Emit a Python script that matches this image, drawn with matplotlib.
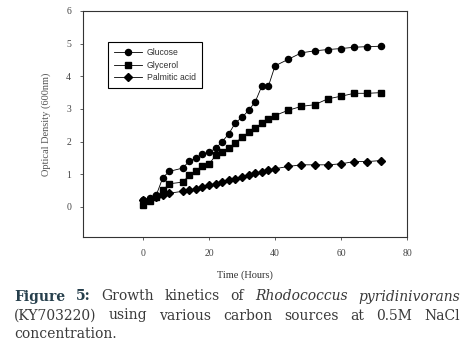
import numpy as np
import matplotlib
matplotlib.use('Agg')
import matplotlib.pyplot as plt

# growth data (time in hours, OD600)
t_glucose = [0, 2, 4, 6, 8, 12, 14, 16, 18, 20, 22, 24, 26, 28, 30, 32, 34,
             36, 38, 40, 44, 48, 52, 56, 60, 64, 68, 72]
od_glucose = [0.20, 0.26, 0.36, 0.90, 1.09, 1.19, 1.40, 1.50, 1.62, 1.68,
              1.79, 2.00, 2.24, 2.58, 2.74, 2.96, 3.22, 3.70, 3.70, 4.32,
              4.52, 4.72, 4.78, 4.82, 4.85, 4.89, 4.91, 4.92]

t_glycerol = [0, 2, 4, 6, 8, 12, 14, 16, 18, 20, 22, 24, 26, 28, 30, 32, 34,
              36, 38, 40, 44, 48, 52, 56, 60, 64, 68, 72]
od_glycerol = [0.07, 0.18, 0.30, 0.51, 0.71, 0.76, 0.97, 1.09, 1.24, 1.31,
               1.58, 1.69, 1.82, 1.95, 2.15, 2.28, 2.42, 2.56, 2.68, 2.80,
               2.96, 3.08, 3.13, 3.31, 3.39, 3.48, 3.48, 3.50]

t_palmitic = [0, 2, 4, 6, 8, 12, 14, 16, 18, 20, 22, 24, 26, 28, 30, 32, 34,
              36, 38, 40, 44, 48, 52, 56, 60, 64, 68, 72]
od_palmitic = [0.20, 0.25, 0.30, 0.37, 0.42, 0.48, 0.51, 0.56, 0.61, 0.67,
               0.71, 0.76, 0.83, 0.87, 0.92, 0.98, 1.03, 1.07, 1.13, 1.17,
               1.24, 1.29, 1.29, 1.29, 1.32, 1.39, 1.39, 1.42]

xticks = [0, 20, 40, 60, 80]
yticks = [0, 1, 2, 3, 4, 5, 6]

fig = plt.figure(figsize=(4.73, 3.55), dpi=100)
ax = fig.add_axes([83/473, 1 - 237/355, 324/473, 226/355])

ax.plot(t_glucose, od_glucose, '-o', color='k', lw=0.6, ms=4.4,
        label='Glucose')
ax.plot(t_glycerol, od_glycerol, '-s', color='k', lw=0.6, ms=4.4,
        label='Glycerol')
ax.plot(t_palmitic, od_palmitic, '-D', color='k', lw=0.6, ms=3.8,
        label='Palmitic acid')

ax.set_xlim(-18.2, 80)
ax.set_ylim(-0.92, 6)
ax.set_xticks(xticks)
ax.set_yticks(yticks)
ax.tick_params(length=2.5, width=0.6, labelsize=7, colors='#444444',
               pad=6)
for lab in ax.get_xticklabels() + ax.get_yticklabels():
    lab.set_family('Liberation Serif')
for s in ax.spines.values():
    s.set_linewidth(0.8)
    s.set_color('#333333')

ax.set_xlabel('Time (Hours)', family='Liberation Serif', fontsize=7.5,
              color='#333333', labelpad=9)
ax.set_ylabel('Optical Density (600nm)', family='Liberation Serif',
              fontsize=7.5, color='#555555', labelpad=11)

leg = ax.legend(loc='upper left', bbox_to_anchor=(0.077, 0.861),
                prop={'family': 'Liberation Sans', 'size': 6.2},
                fancybox=False, framealpha=1, edgecolor='k',
                handlelength=3.2, borderpad=0.7, labelspacing=0.4,
                handletextpad=0.6, borderaxespad=0)
leg.get_frame().set_linewidth(0.8)
for txt in leg.get_texts():
    txt.set_color('#333333')

# justified caption
cap_lines = [
    [('Figure', 'bold'), ('5:', 'bold'), ('Growth', ''), ('kinetics', ''),
     ('of', ''), ('Rhodococcus', 'italic'), ('pyridinivorans', 'italic')],
    [('(KY703220)', ''), ('using', ''), ('various', ''), ('carbon', ''),
     ('sources', ''), ('at', ''), ('0.5M', ''), ('NaCl', '')],
    [('concentration.', '')],
]
line_y = [296.5, 315.5, 334.5]
x_left, x_right = 14, 460

renderer = fig.canvas.get_renderer()
for words, yc in zip(cap_lines, line_y):
    texts = []
    for w, st in words:
        kw = dict(family='DejaVu Serif', fontsize=10, va='center',
                  ha='left', color='#3a3a3a')
        if st == 'bold':
            kw.update(weight='bold', color='#263f4c')
        elif st == 'italic':
            kw.update(style='italic')
        texts.append(fig.text(x_left / 473, 1 - yc / 355, w, **kw))
    widths = [tx.get_window_extent(renderer).width for tx in texts]
    if len(texts) > 1:
        gap = (x_right - x_left - sum(widths)) / (len(texts) - 1)
    else:
        gap = 0
    x = x_left
    for tx, wd in zip(texts, widths):
        tx.set_x(x / 473)
        x += wd + gap

fig.savefig('out.png', dpi=100)
